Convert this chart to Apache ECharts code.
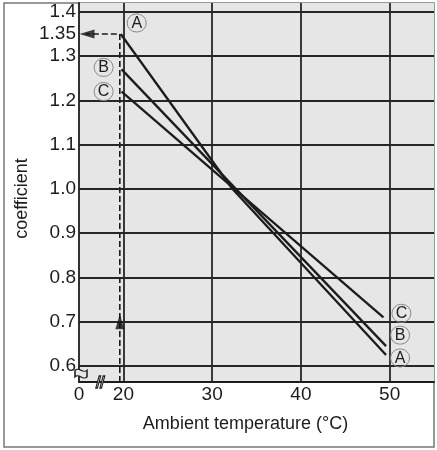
<!DOCTYPE html>
<html>
<head>
<meta charset="utf-8">
<script src="https://cdn.jsdelivr.net/npm/echarts@6/dist/echarts.min.js"></script>
<style>
  html, body { margin: 0; padding: 0; background: #fff; }
  #chart { width: 437px; height: 450px; }
</style>
</head>
<body>
<div id="chart"></div>
<script>
// values
var lineA = [[19.7, 1.35], [32.3, 1.0], [49.6, 0.625]];
var lineB = [[19.8, 1.27], [49.6, 0.645]];
var lineC = [[19.8, 1.22], [49.3, 0.71]];

var xTicks = [20, 30, 40, 50];
var yTicks = [0.6, 0.7, 0.8, 0.9, 1.0, 1.1, 1.2, 1.3, 1.4];
var yLabels = [0.6, 0.7, 0.8, 0.9, 1.0, 1.1, 1.2, 1.3, 1.35, 1.4];

var readX = 19.6;
var readY = 1.35;

var xMin = 15, xMax = 55;
var yMin = 0.564, yMax = 1.42;

var font = 'Liberation Sans, Arial, Helvetica, sans-serif';
var ink = '#1c1c1c';

function circled(letter) {
    return '{c|' + letter + '}';
}

var circleRich = {
    c: {
        width: 17,
        height: 17,
        lineHeight: 18,
        align: 'center',
        borderRadius: 10,
        borderColor: '#8a8a8a',
        borderWidth: 1,
        padding: [1, 1, 0, 1],
        fontSize: 16,
        fontFamily: font,
        color: ink
    }
};

// attach a circled letter to the first and last point of a curve
function withLabels(points, letter, startOffset, endOffset) {
    return points.map(function (p, i) {
        var item = { value: p };
        var off = null;
        if (i === 0) off = startOffset;
        if (i === points.length - 1) off = endOffset;
        if (off) {
            item.label = {
                show: true,
                position: 'inside',
                offset: off,
                formatter: circled(letter),
                rich: circleRich
            };
        }
        return item;
    });
}

var chart = echarts.init(document.getElementById('chart'));

var curveStyle = {
    type: 'line',
    symbol: 'circle',
    symbolSize: 0.1,
    showSymbol: true,
    lineStyle: { color: ink, width: 2.3 },
    itemStyle: { color: ink },
    silent: true,
    z: 5
};

var option = {
    backgroundColor: '#fff',
    animation: false,
    graphic: [
        {
            type: 'rect',
            shape: { x: 4, y: 3, width: 430, height: 444 },
            style: { fill: 'none', stroke: '#777', lineWidth: 1.5 },
            z: -10
        }
    ],
    grid: {
        left: 79,
        right: 3,
        top: 3,
        bottom: 68,
        show: true,
        backgroundColor: '#e6e6e6',
        borderWidth: 0
    },
    xAxis: {
        type: 'value',
        min: xMin,
        max: xMax,
        interval: 5,
        name: 'Ambient temperature (°C)',
        nameLocation: 'middle',
        nameGap: 33,
        nameTextStyle: { fontSize: 18, fontFamily: font, color: ink, padding: [0, 22, 0, 0] },
        axisLine: { lineStyle: { color: ink, width: 1.8 } },
        axisTick: { show: false },
        splitLine: { show: false },
        axisLabel: {
            fontSize: 19,
            fontFamily: font,
            color: ink,
            margin: 3,
            showMaxLabel: false,
            formatter: function (v) {
                if (v === xMin) return '0';
                return xTicks.indexOf(v) >= 0 ? String(v) : '';
            }
        }
    },
    yAxis: {
        type: 'value',
        min: yMin,
        max: yMax,
        name: 'coefficient',
        nameLocation: 'middle',
        nameRotate: 90,
        nameGap: 48,
        nameMoveOverlap: false,
        nameTextStyle: { fontSize: 18, fontFamily: font, color: ink, padding: [0, 12, 0, 0] },
        axisLine: { show: true, lineStyle: { color: ink, width: 1.8 } },
        axisTick: { show: false },
        splitLine: { show: false },
        axisLabel: {
            customValues: yLabels,
            fontSize: 19,
            fontFamily: font,
            color: ink,
            margin: 3,
            formatter: function (v) {
                return Math.abs(v - 1.35) < 1e-6 ? '1.35' : v.toFixed(1);
            }
        }
    },
    series: [
        {
            // grid lines and axis break marks
            type: 'line',
            data: [],
            silent: true,
            markLine: {
                silent: true,
                symbol: ['none', 'none'],
                label: { show: false },
                lineStyle: { color: '#262626', width: 1.8, type: 'solid' },
                data: yTicks.map(function (v) { return { yAxis: v }; })
                    .concat(xTicks.map(function (v) { return { xAxis: v }; }))
            },
            markPoint: {
                silent: true,
                label: { show: false },
                data: [
                    {
                        coord: [17.4, yMin],
                        symbol: 'path://M0,12 L4,0 L6,0 L2,12 Z M5,12 L9,0 L11,0 L7,12 Z',
                        symbolSize: [9, 12],
                        itemStyle: { color: '#e6e6e6', borderColor: ink, borderWidth: 1.2 }
                    },
                    {
                        coord: [xMin, 0.583],
                        symbol: 'path://M0,2 C3,-1 5,5 8,2 L8,7 C5,10 3,4 0,7 Z',
                        symbolSize: [12, 9],
                        symbolOffset: [2, 0],
                        itemStyle: { color: '#e6e6e6', borderColor: ink, borderWidth: 1.3 }
                    }
                ]
            }
        },
        {
            // dashed reading line
            type: 'line',
            data: [[readX, yMin], [readX, readY], [15.8, readY]],
            symbol: 'none',
            silent: true,
            lineStyle: { color: ink, width: 1.6, type: [6, 3] },
            z: 4
        },
        {
            // arrow heads on the reading line
            type: 'scatter',
            silent: true,
            symbol: 'triangle',
            itemStyle: { color: '#111' },
            data: [
                { value: [readX, 0.7], symbolSize: [9, 15], symbolRotate: 0 },
                { value: [15.9, readY], symbolSize: [9, 15], symbolRotate: 90 }
            ],
            z: 6
        },
        Object.assign({}, curveStyle, { name: 'A', data: withLabels(lineA, 'A', [16, -11], [14, 3]) }),
        Object.assign({}, curveStyle, { name: 'B', data: withLabels(lineB, 'B', [-18, -2], [14, -11]) }),
        Object.assign({}, curveStyle, { name: 'C', data: withLabels(lineC, 'C', [-18, 0], [18, -4]) })
    ]
};

chart.setOption(option);
</script>
</body>
</html>
